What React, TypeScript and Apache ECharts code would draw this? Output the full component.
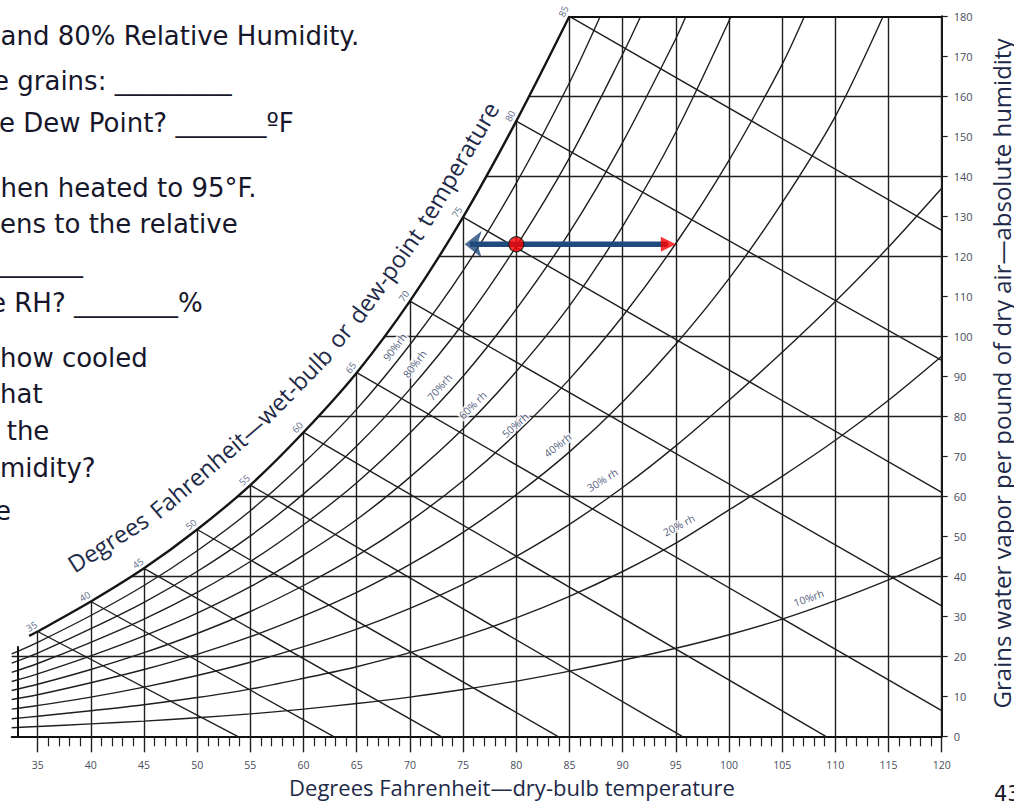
import React, { useEffect, useRef } from "react";
import * as echarts from "echarts";

// ---------------- data ----------------
const dryBulbTicks = [35, 40, 45, 50, 55, 60, 65, 70, 75, 80, 85, 90, 95, 100, 105, 110, 115, 120];
const grainGridLines = [20, 40, 60, 80, 100, 120, 140, 160];

// saturation curve: [dry-bulb °F, grains]
const saturation = [
  [34.2, 25.1], [35, 26.2], [40, 33.7], [45, 42.0], [50, 51.7], [55, 62.8], [60, 76.0],
  [65, 90.9], [70, 108.8], [75, 129.8], [80, 153.8], [85, 180],
];

const rh10 = [[32.56, 2.15], [35, 2.45], [40, 3.1], [45, 3.8], [50, 4.65], [55, 5.6], [60, 6.8], [65, 8.2], [70, 9.8], [75, 11.7], [80, 13.8], [85, 16.3], [90, 19.0], [95, 22.0], [100, 25.4], [105, 29.3], [110, 33.9], [115, 39.1], [120, 44.8]];
const rh20 = [[32.56, 4.4], [35, 5.0], [40, 6.4], [45, 7.9], [50, 9.7], [55, 11.8], [60, 14.5], [65, 17.4], [70, 20.9], [75, 24.9], [80, 29.6], [85, 35.0], [90, 41.2], [95, 48.3], [100, 56.6], [105, 65.0], [110, 74.0], [115, 84.0], [120, 95.0]];
const rh30 = [[32.56, 6.8], [35, 7.7], [40, 9.8], [45, 12.3], [50, 15.2], [55, 18.5], [60, 22.4], [65, 26.8], [70, 32.0], [75, 38.0], [80, 45.0], [85, 53.0], [90, 62.2], [95, 72.6], [100, 84.0], [105, 96.0], [110, 108.7], [115, 122.3], [120, 137.0]];
const rh40 = [[32.56, 9.2], [35, 10.4], [40, 13.4], [45, 16.7], [50, 20.5], [55, 24.9], [60, 30.1], [65, 36.0], [70, 43.0], [75, 51.0], [80, 60.4], [85, 71.1], [90, 83.6], [95, 98.0], [100, 114.4], [105, 133.4], [110, 155.0], [114.5, 180]];
const rh50 = [[32.56, 11.45], [35, 13.0], [40, 16.7], [45, 20.9], [50, 25.7], [55, 31.2], [60, 37.7], [65, 45.1], [70, 53.8], [75, 63.9], [80, 75.7], [85, 89.3], [90, 105.0], [95, 123.2], [100, 144.0], [105, 168.0], [107.1, 180]];
const rh60 = [[32.56, 13.7], [35, 15.6], [40, 20.1], [45, 25.1], [50, 30.8], [55, 37.4], [60, 45.3], [65, 54.2], [70, 64.8], [75, 76.9], [80, 91.2], [85, 107.6], [90, 127.5], [95, 151.0], [100.2, 180]];
const rh70 = [[32.56, 16.0], [35, 18.2], [40, 23.5], [45, 29.3], [50, 36.0], [55, 43.7], [60, 52.9], [65, 63.4], [70, 75.8], [75, 90.0], [80, 106.8], [85, 126.0], [90, 148.5], [95, 174.4], [95.95, 180]];
const rh80 = [[32.56, 18.3], [35, 20.8], [40, 26.9], [45, 33.5], [50, 41.2], [55, 50.1], [60, 60.6], [65, 72.6], [70, 86.8], [75, 103.2], [80, 122.5], [85, 144.6], [90, 170.5], [91.7, 180]];
const rh90 = [[32.56, 20.6], [35, 23.5], [40, 30.2], [45, 37.7], [50, 46.4], [55, 56.4], [60, 68.3], [65, 81.8], [70, 97.9], [75, 116.4], [80, 138.3], [85, 163.4], [87.9, 180]];
const rhCurves = [rh10, rh20, rh30, rh40, rh50, rh60, rh70, rh80, rh90];
const rhNames = ["10%rh", "20% rh", "30% rh", "40%rh", "50%rh", "60% rh", "70%rh", "80%rh", "90%rh"];

// wet-bulb lines: start on the saturation curve at these temps, end points below
const wetBulbTemps = [35, 40, 45, 50, 55, 60, 65, 70, 75, 80, 85];
const wetBulbEnds = [[53.8, 0], [62.8, 0], [72.9, 0], [83.9, 0], [95.6, 0], [109.1, 0], [120, 6.4], [120, 32.6], [120, 61], [120, 94], [120, 126.5]];

// state point and heating arrow
const stateDryBulb = 80;
const stateGrains = 123;
const heatedDryBulb = 95;
const arrowLeftDryBulb = 75.1;

// ---------------- layout (not data) ----------------
const X_MIN = 32.56;
const X_MAX = 120;
const LEFT_EDGE_T = 33.15;
const LEFT_EDGE_TOP = 22.5;
const GRID0 = { left: 11.7, top: 16.3, width: 930, height: 720 };
const GRID1 = { left: 37.65, top: 16.3, width: 904.05, height: 720 };
const PX_PER_F = 904.05 / 85;
const PX_PER_G = 4;
// label anchors for rh curves: [dry-bulb, grains, rotation]
const rhLabelLayout = [[107.5, 34.6, 20], [95.3, 52.8, 28], [88.1, 64.1, 32], [83.9, 72.8, 38], [79.9, 77.8, 42], [75.9, 82.8, 45], [72.8, 87.3, 49], [70.45, 93.1, 53], [68.57, 97.3, 53]];
const satLabelRot = [30, 32, 35, 38, 42, 46, 52, 55, 58, 62, 66];

const slideLines: [string, number, number][] = [
  ["and 80% Relative Humidity.", 0.5, 45],
  ["e grains: _________", -7, 90],
  ["e Dew Point? _______ºF", -1, 132],
  ["hen heated to 95°F.", 0.5, 197],
  ["ens to the relative", 0, 233],
  ["_______", -8, 272],
  ["e RH? ________%", -10, 312],
  ["how cooled", 0, 367],
  ["hat", 0, 403],
  ["the", 6.7, 440],
  ["midity?", 0, 477],
  ["e", -5, 520],
];

const INK = "#1f1f1f";
const NAVY_TEXT = "#1e2a48";
const ARROW_BLUE = "#1f4a7c";
const CHART_FONT = '"Open Sans", "Noto Sans", sans-serif';
const SLIDE_FONT = '"DejaVu Sans", sans-serif';

function interpY(curve: number[][], t: number) {
  for (let i = 0; i < curve.length - 1; i++) {
    const a = curve[i], b = curve[i + 1];
    if (t >= a[0] && t <= b[0]) return a[1] + ((t - a[0]) / (b[0] - a[0])) * (b[1] - a[1]);
  }
  return curve[curve.length - 1][1];
}
function interpX(curve: number[][], g: number) {
  for (let i = 0; i < curve.length - 1; i++) {
    const a = curve[i], b = curve[i + 1];
    if (g >= a[1] && g <= b[1]) return a[0] + ((g - a[1]) / (b[1] - a[1])) * (b[0] - a[0]);
  }
  return curve[0][0];
}
function cr(p0: number[], p1: number[], p2: number[], p3: number[], t: number) {
  const t2 = t * t, t3 = t2 * t;
  const f = (k: number) =>
    0.5 * (2 * p1[k] + (-p0[k] + p2[k]) * t + (2 * p0[k] - 5 * p1[k] + 4 * p2[k] - p3[k]) * t2 + (-p0[k] + 3 * p1[k] - 3 * p2[k] + p3[k]) * t3);
  return [f(0), f(1)];
}

export default function App() {
  const ref = useRef<HTMLDivElement>(null);
  useEffect(() => {
    const chart = echarts.init(ref.current!, null, { renderer: "svg" });

    const satAt = (t: number) => (t >= 85 ? 180 : interpY(saturation, t));

    const gridSegs: any[] = [];
    dryBulbTicks.forEach((t) => gridSegs.push({ coords: [[t, 0], [t, satAt(t)]] }));
    grainGridLines.forEach((g) => {
      const t0 = g <= saturation[0][1] ? X_MIN : interpX(saturation, g);
      gridSegs.push({ coords: [[t0, g], [X_MAX, g]] });
    });
    wetBulbTemps.forEach((t, i) => gridSegs.push({ coords: [[t, satAt(t)], wetBulbEnds[i]] }));

    const frameSegs = [
      { coords: [[85, 180], [X_MAX, 180]] },
      { coords: [[LEFT_EDGE_T, 0], [LEFT_EDGE_T, LEFT_EDGE_TOP]] },
    ];

    const rhSeries = rhCurves.map((c, i) => ({
      type: "line",
      name: rhNames[i],
      xAxisIndex: 0,
      yAxisIndex: 0,
      data: c,
      smooth: 0.3,
      symbol: "none",
      silent: true,
      lineStyle: { color: INK, width: 1.4 },
      z: 3,
    }));

    const rhLabelData = rhNames.map((n, i) => ({
      name: n,
      value: [rhLabelLayout[i][0], rhLabelLayout[i][1]],
      label: { rotate: rhLabelLayout[i][2] },
    }));

    const satLabelData = saturation.slice(1).map((p, i) => ({
      name: String(p[0]),
      value: [p[0] - 6 / PX_PER_F, p[1] + 5 / PX_PER_G],
      label: { rotate: satLabelRot[i] },
    }));

    const leftHeadLen = 17;
    const rightHeadLen = 15;

    const option: any = {
      animation: false,
      backgroundColor: "#ffffff",
      grid: [
        { ...GRID0, containLabel: false },
        { ...GRID1, containLabel: false },
      ],
      xAxis: [
        {
          type: "value", gridIndex: 0, min: X_MIN, max: X_MAX,
          axisLine: { show: true, onZero: false, lineStyle: { color: "#111", width: 2 } },
          axisTick: { show: false }, axisLabel: { show: false }, splitLine: { show: false },
        },
        {
          type: "value", gridIndex: 1, min: 35, max: 120, interval: 5,
          axisLine: { show: false, onZero: false },
          axisTick: { show: true, length: 16, lineStyle: { color: INK, width: 1.4 } },
          minorTick: { show: true, splitNumber: 5, length: 10, lineStyle: { color: INK, width: 1.2 } },
          axisLabel: { show: true, margin: 23, fontSize: 10.5, color: "#4a4d5c", fontFamily: CHART_FONT },
          splitLine: { show: false }, minorSplitLine: { show: false },
        },
      ],
      yAxis: [
        {
          type: "value", gridIndex: 0, position: "right", min: 0, max: 180, interval: 10,
          axisLine: { show: true, onZero: false, lineStyle: { color: "#111", width: 2 } },
          axisTick: { show: true, length: 6, lineStyle: { color: INK, width: 1.2 } },
          axisLabel: { margin: 12, fontSize: 11, color: "#4a4d5c", fontFamily: CHART_FONT },
          splitLine: { show: false },
        },
        { type: "value", gridIndex: 1, min: 0, max: 180, show: false },
      ],
      series: [
        {
          type: "lines", coordinateSystem: "cartesian2d", xAxisIndex: 0, yAxisIndex: 0,
          silent: true, data: gridSegs, lineStyle: { color: INK, width: 1.4, opacity: 1 }, z: 2,
        },
        {
          type: "lines", coordinateSystem: "cartesian2d", xAxisIndex: 0, yAxisIndex: 0,
          silent: true, data: frameSegs, lineStyle: { color: "#111", width: 2, opacity: 1 }, z: 4,
        },
        ...rhSeries,
        {
          type: "line", name: "saturation", xAxisIndex: 0, yAxisIndex: 0, data: saturation,
          smooth: 0.3, symbol: "none", silent: true,
          lineStyle: { color: "#151515", width: 2.4 }, z: 5,
        },
        {
          type: "scatter", xAxisIndex: 0, yAxisIndex: 0, data: rhLabelData, symbolSize: 1, clip: false,
          itemStyle: { color: "rgba(0,0,0,0)" }, silent: true, z: 8,
          label: {
            show: true, position: "inside", formatter: "{b}", fontSize: 10.5, fontFamily: CHART_FONT,
            color: "#26325a", backgroundColor: "#ffffff", padding: [0, 1],
          },
        },
        {
          type: "scatter", xAxisIndex: 0, yAxisIndex: 0, data: satLabelData, symbolSize: 1, clip: false,
          itemStyle: { color: "rgba(0,0,0,0)" }, silent: true, z: 8,
          label: { show: true, position: "inside", formatter: "{b}", fontSize: 9.5, fontFamily: CHART_FONT, color: "#2c3c66" },
        },
        {
          type: "line", xAxisIndex: 0, yAxisIndex: 0, symbol: "none", silent: true,
          data: [[arrowLeftDryBulb + 6 / PX_PER_F, stateGrains], [heatedDryBulb - 8 / PX_PER_F, stateGrains]],
          lineStyle: { color: ARROW_BLUE, width: 5.5 }, z: 10,
        },
        {
          type: "scatter", xAxisIndex: 0, yAxisIndex: 0, silent: true, z: 11,
          data: [
            { value: [arrowLeftDryBulb + (leftHeadLen / 2 - 8) / PX_PER_F, stateGrains], symbol: "arrow", symbolSize: [20, leftHeadLen], symbolRotate: 90, itemStyle: { color: ARROW_BLUE } },
            { value: [heatedDryBulb - rightHeadLen / 2 / PX_PER_F, stateGrains], symbol: "triangle", symbolSize: [15, rightHeadLen], symbolRotate: -90, itemStyle: { color: "#ff0000" } },
          ],
        },
        {
          type: "scatter", xAxisIndex: 0, yAxisIndex: 0, silent: true, z: 12,
          data: [[stateDryBulb, stateGrains]], symbolSize: 15,
          itemStyle: { color: "#ff0000", borderColor: "#111", borderWidth: 1.2 },
        },
      ],
    };

    const baseGraphics: any[] = [];
    slideLines.forEach(([text, x, base], i) => {
      baseGraphics.push({
        type: "text", id: "slide" + i, x, y: base - 9.5, silent: true,
        style: {
          text, font: `26px ${SLIDE_FONT}`, fill: "#17172b",
          align: "left", textAlign: "left", verticalAlign: "middle", textVerticalAlign: "middle",
        },
      });
    });
    baseGraphics.push({
      type: "text", id: "pageNo", x: 994, y: 794, silent: true,
      style: { text: "43", font: `21px ${SLIDE_FONT}`, fill: "#17172b", align: "left", textAlign: "left", verticalAlign: "middle", textVerticalAlign: "middle" },
    });
    baseGraphics.push({
      type: "text", id: "xTitle", x: 512, y: 787, silent: true,
      style: { text: "Degrees Fahrenheit—dry-bulb temperature", font: `22px ${CHART_FONT}`, fill: NAVY_TEXT, align: "center", textAlign: "center", verticalAlign: "middle", textVerticalAlign: "middle" },
    });
    baseGraphics.push({
      type: "text", id: "yTitle", x: 1001, y: 373.5, rotation: Math.PI / 2, silent: true,
      style: { text: "Grains water vapor per pound of dry air—absolute humidity", font: `24px ${CHART_FONT}`, fill: NAVY_TEXT, align: "center", textAlign: "center", verticalAlign: "middle", textVerticalAlign: "middle" },
    });

    option.graphic = baseGraphics;
    chart.setOption(option);

    // curved title along the saturation curve
    const toPx = (p: number[]) => chart.convertToPixel({ xAxisIndex: 0, yAxisIndex: 0 }, p) as number[];
    const satPx = saturation.map(toPx);
    const dense: number[][] = [];
    for (let i = 0; i < satPx.length - 1; i++) {
      const p0 = satPx[Math.max(0, i - 1)], p1 = satPx[i], p2 = satPx[i + 1], p3 = satPx[Math.min(satPx.length - 1, i + 2)];
      for (let k = 0; k < 24; k++) dense.push(cr(p0, p1, p2, p3, k / 24));
    }
    dense.push(satPx[satPx.length - 1]);
    const offs: number[][] = [];
    for (let i = 0; i < dense.length; i++) {
      const a = dense[Math.max(0, i - 2)], b = dense[Math.min(dense.length - 1, i + 2)];
      let tx = b[0] - a[0], ty = b[1] - a[1];
      const l = Math.hypot(tx, ty) || 1;
      tx /= l; ty /= l;
      const x = dense[i][0];
      const d = x < 250 ? 42 : x > 517 ? 30 : 42 - (12 * (x - 250)) / 267;
      offs.push([dense[i][0] + ty * d, dense[i][1] - tx * d]);
    }
    const cum: number[] = [0];
    for (let i = 1; i < offs.length; i++) cum.push(cum[i - 1] + Math.hypot(offs[i][0] - offs[i - 1][0], offs[i][1] - offs[i - 1][1]));
    const xStart = toPx([39.9, 0])[0];
    let startIdx = dense.findIndex((p) => p[0] >= xStart);
    if (startIdx < 0) startIdx = 0;
    const pointAt = (L: number) => {
      let i = 1;
      while (i < cum.length - 1 && cum[i] < L) i++;
      const a = offs[i - 1], b = offs[i];
      const seg = cum[i] - cum[i - 1] || 1;
      const f = Math.min(1, Math.max(0, (L - cum[i - 1]) / seg));
      const a2 = offs[Math.max(0, i - 3)], b2 = offs[Math.min(offs.length - 1, i + 2)];
      return { x: a[0] + (b[0] - a[0]) * f, y: a[1] + (b[1] - a[1]) * f, ang: Math.atan2(-(b2[1] - a2[1]), b2[0] - a2[0]) };
    };
    const titleFontSize = 23.5;
    const titleFont = `${titleFontSize}px ${CHART_FONT}`;
    const ctx = document.createElement("canvas").getContext("2d")!;
    ctx.font = titleFont;
    const spaceW = ctx.measureText(" ").width * 1.3;
    const tokens: [string, boolean][] = [["Degrees", true], ["Fahrenheit—", false], ["wet-bulb", true], ["or", true], ["dew-point", true], ["temperature", false]];
    let cur = cum[startIdx];
    const titleGraphics: any[] = [];
    tokens.forEach(([w, sp], i) => {
      const width = ctx.measureText(w).width;
      const p = pointAt(cur + width / 2);
      titleGraphics.push({
        type: "text", id: "curveTitle" + i, x: p.x, y: p.y, rotation: p.ang, silent: true,
        style: { text: w, font: titleFont, fill: NAVY_TEXT, align: "center", textAlign: "center", verticalAlign: "middle", textVerticalAlign: "middle" },
      });
      cur += width + (sp ? spaceW : 0);
    });

    chart.setOption({ graphic: [...baseGraphics, ...titleGraphics] });

    return () => chart.dispose();
  }, []);

  return (
    <div
      ref={ref}
      style={{ position: "absolute", left: 0, top: 0, width: 1014, height: 802, background: "#fff" }}
    />
  );
}
